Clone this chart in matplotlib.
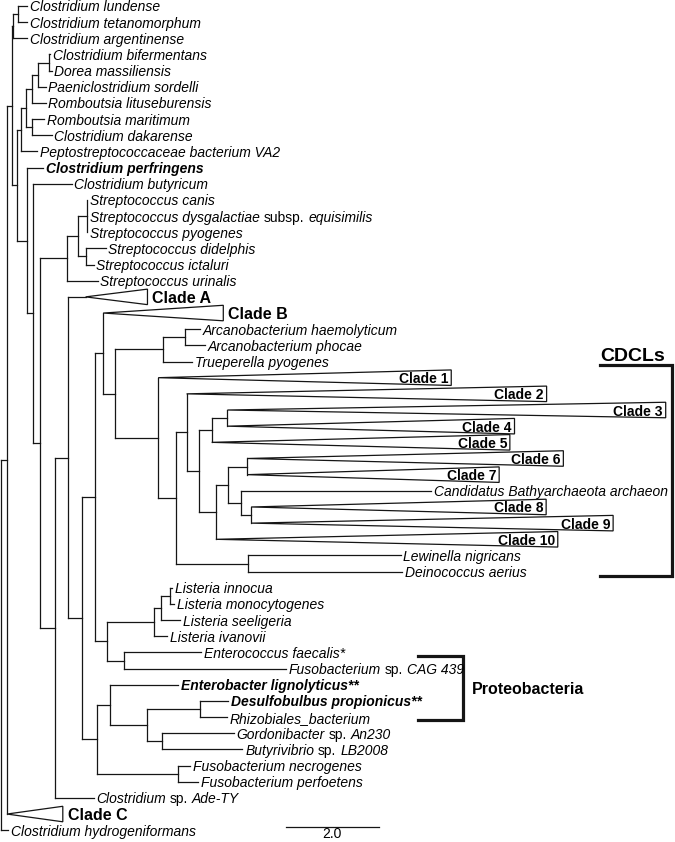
import re
import matplotlib.pyplot as plt
from matplotlib.patches import Polygon

plt.rcParams['font.family'] = ['Liberation Sans', 'DejaVu Sans']

# tree in preorder: node name, parent, branch length (scale bar = 2.0)
nodes = [
    'root', 'n1', 'n2', 'n3', 'n3a', 'Clostridium lundense',
    'Clostridium tetanomorphum', 'Clostridium argentinense', 's', 'g', 'h', 'i',
    'k', 'l', 'Clostridium bifermentans', 'Dorea massiliensis', 'Paeniclostridium sordelli', 'Romboutsia lituseburensis',
    'j', 'Romboutsia maritimum', 'Clostridium dakarense', 'Peptostreptococcaceae bacterium VA2', 'r', 'Clostridium perfringens',
    'p', 'Clostridium butyricum', 'q', 'sa', 'sb', 'sc',
    'Streptococcus canis', 'Streptococcus dysgalactiae {subsp.} equisimilis', 'Streptococcus pyogenes', 'sd',
    'Streptococcus didelphis', 'Streptococcus ictaluri',
    'Streptococcus urinalis', 'u', 'v', 'Clade A', 'x', 'y',
    'ae', 'Clade B', 'ag', 'ar', 'ar2', 'Arcanobacterium haemolyticum',
    'Arcanobacterium phocae', 'Trueperella pyogenes', 'cd', 'Clade 1', 'ce', 'cf',
    'Clade 2', 'ch', 'c345', 'c34', 'Clade 3', 'Clade 4',
    'Clade 5', 'ci', 'ck', 'cl', 'Clade 6', 'Clade 7',
    'cm', 'Candidatus Bathyarchaeota archaeon', 'cn', 'Clade 8', 'Clade 9', 'Clade 10',
    'cg', 'Lewinella nigricans', 'Deinococcus aerius', 'af', 'la', 'lb',
    'lc', 'Listeria innocua', 'Listeria monocytogenes', 'Listeria seeligeria', 'Listeria ivanovii', 'ef',
    'Enterococcus faecalis*', 'Fusobacterium {sp.} CAG 439', 'z', 'aa', 'Enterobacter lignolyticus**', 'ab',
    'ac', 'Desulfobulbus propionicus**', 'Rhizobiales_bacterium', 'ad', 'Gordonibacter {sp.} An230',
    'Butyrivibrio {sp.} LB2008',
    'fn', 'Fusobacterium necrogenes', 'Fusobacterium perfoetens', 'Clostridium {sp.} Ade-TY', 'Clade C',
    'Clostridium hydrogeniformans',
]
parents = [
    None, 'root', 'n1', 'n2', 'n3', 'n3a',
    'n3a', 'n3', 'n2', 's', 'g', 'h',
    'i', 'k', 'l', 'l', 'k', 'i',
    'h', 'j', 'j', 'g', 's', 'r',
    'r', 'p', 'p', 'q', 'sa', 'sb',
    'sc', 'sc', 'sc', 'sb', 'sd', 'sd',
    'sa', 'q', 'u', 'v', 'v', 'x',
    'y', 'ae', 'ae', 'ag', 'ar', 'ar2',
    'ar2', 'ar', 'ag', 'cd', 'cd', 'ce',
    'cf', 'cf', 'ch', 'c345', 'c34', 'c34',
    'c345', 'ch', 'ci', 'ck', 'cl', 'cl',
    'ck', 'cm', 'cm', 'cn', 'cn', 'ci',
    'ce', 'cg', 'cg', 'y', 'af', 'la',
    'lb', 'lc', 'lc', 'lb', 'la', 'af',
    'ef', 'ef', 'x', 'z', 'aa', 'aa',
    'ab', 'ac', 'ac', 'ab', 'ad', 'ad',
    'z', 'fn', 'fn', 'u', 'n1', 'root',
]
lengths = [
    0.00, 0.13, 0.11, 0.02, 0.11, 0.19,
    0.19, 0.30, 0.11, 0.09, 0.09, 0.13,
    0.13, 0.24, 0.02, 0.06, 0.17, 0.30,
    0.13, 0.26, 0.43, 0.34, 0.22, 0.34,
    0.13, 0.82, 0.13, 0.60, 0.22, 0.19,
    0.02, 0.02, 0.02, 0.17, 0.43, 0.17,
    0.65, 0.34, 0.28, 0.37, 0.30, 0.28,
    0.17, 0.00, 0.26, 1.03, 0.47, 0.32,
    0.43, 0.62, 0.92, 0.00, 0.39, 0.22,
    0.00, 0.26, 0.28, 0.34, 0.00, 0.00,
    0.00, 0.37, 0.26, 0.41, 0.00, 0.00,
    0.28, 4.09, 0.22, 0.00, 0.00, 0.00,
    1.55, 3.27, 3.31, 0.24, 1.01, 0.17,
    0.19, 0.04, 0.09, 0.41, 0.30, 0.37,
    1.66, 3.48, 0.32, 0.28, 1.46, 0.80,
    1.14, 0.60, 0.56, 0.32, 1.53, 1.72,
    1.74, 0.26, 0.43, 0.82, 0.00, 0.15,
]

# collapsed clades and their depth
clade_names = ['Clade A', 'Clade B', 'Clade C', 'Clade 1', 'Clade 2', 'Clade 3', 'Clade 4',
               'Clade 5', 'Clade 6', 'Clade 7', 'Clade 8', 'Clade 9', 'Clade 10']
clade_depths = [1.33, 2.58, 1.20, 6.30, 7.74, 9.42, 6.17, 6.41, 6.80, 5.42, 6.34, 7.78, 7.35]

bold_taxa = ['Clostridium perfringens', 'Enterobacter lignolyticus**', 'Desulfobulbus propionicus**']

group_names = ['CDCLs', 'Proteobacteria']
group_first = ['Clade 1', 'Fusobacterium {sp.} CAG 439']
group_last = ['Deinococcus aerius', 'Rhizobiales_bacterium']

scale_len = 2.0

LINE = '#151515'
LW = 0.9

# ---- layout of the tree ----
children = {n: [] for n in nodes}
for n, p in zip(nodes, parents):
    if p is not None:
        children[p].append(n)

xpos = {}
for n, p, bl in zip(nodes, parents, lengths):
    xpos[n] = 0.0 if p is None else xpos[p] + bl

leaves = [n for n in nodes if not children[n]]
ypos = {n: i for i, n in enumerate(leaves)}
for n in reversed(nodes):
    if children[n]:
        ypos[n] = (ypos[children[n][0]] + ypos[children[n][-1]]) / 2

fig = plt.figure(figsize=(6.75, 8.42), dpi=100)
ax = fig.add_axes([0, 0, 1, 1])
ax.set_xlim(-0.02, 14.49)
ax.set_ylim(51.73, -0.37)
ax.axis('off')

for n, p in zip(nodes, parents):
    if p is not None:
        ax.plot([xpos[p], xpos[n]], [ypos[n], ypos[n]], color=LINE, lw=LW,
                solid_capstyle='projecting')
    if children[n]:
        ax.plot([xpos[n], xpos[n]], [ypos[children[n][0]], ypos[children[n][-1]]],
                color=LINE, lw=LW, solid_capstyle='projecting')

# collapsed clade triangles
half = 0.48
for name, depth in zip(clade_names, clade_depths):
    x0, y0 = xpos[name], ypos[name]
    ax.add_patch(Polygon([(x0, y0), (x0 + depth, y0 - half), (x0 + depth, y0 + half)],
                         closed=True, fc='white', ec=LINE, lw=LW, zorder=3))
    if name.split()[-1].isdigit():
        ax.annotate(name, (x0 + depth, y0), xytext=(-2, 0), textcoords='offset points',
                    ha='right', va='center_baseline', fontsize=10, fontweight='bold', zorder=4)
    else:
        ax.annotate(name, (x0 + depth, y0), xytext=(3.5, 0), textcoords='offset points',
                    ha='left', va='center_baseline', fontsize=11.5, fontweight='bold', zorder=4)


def add_label(x, y, text, bold):
    weight = 'bold' if bold else 'normal'
    parts = [s for s in re.split(r'(\{[^}]*\})', text) if s.strip()]
    prev = None
    for part in parts:
        style = 'normal' if part.startswith('{') else 'italic'
        s = part.strip('{} ')
        kw = dict(fontsize=10, fontweight=weight, fontstyle=style,
                  textcoords='offset points', ha='left')
        if prev is None:
            prev = ax.annotate(s, (x, y), xytext=(2, 0), va='center_baseline', **kw)
        else:
            prev = ax.annotate(s, (1, 0), xycoords=prev, xytext=(2.8, 0), va='bottom', **kw)


for n in leaves:
    if n in clade_names:
        continue
    add_label(xpos[n], ypos[n], n, n in bold_taxa)

# brackets
bx = {'CDCLs': (12.88, 14.43, 0.8, 0.3), 'Proteobacteria': (8.97, 9.94, 0.75, 0.2)}
for name, first, last in zip(group_names, group_first, group_last):
    x0, x1, pt, pb = bx[name]
    top, bot = ypos[first] - pt, ypos[last] + pb
    ax.plot([x0, x1, x1, x0], [top, top, bot, bot], color=LINE, lw=2.3,
            solid_joinstyle='miter')
    if name == 'CDCLs':
        ax.annotate(name, (x0, top), xytext=(0, 3), textcoords='offset points',
                    ha='left', va='baseline', fontsize=14, fontweight='bold')
    else:
        ax.annotate(name, (x1, (top + bot) / 2), xytext=(6.3, 0), textcoords='offset points',
                    ha='left', va='center_baseline', fontsize=11.5, fontweight='bold')

# scale bar
sx, sy = 6.12, 50.8
ax.plot([sx, sx + scale_len], [sy, sy], color=LINE, lw=LW)
ax.text(sx + scale_len / 2, 51.25, f'{scale_len:.1f}', ha='center', va='center', fontsize=10)

fig.savefig('out.png', dpi=100)
